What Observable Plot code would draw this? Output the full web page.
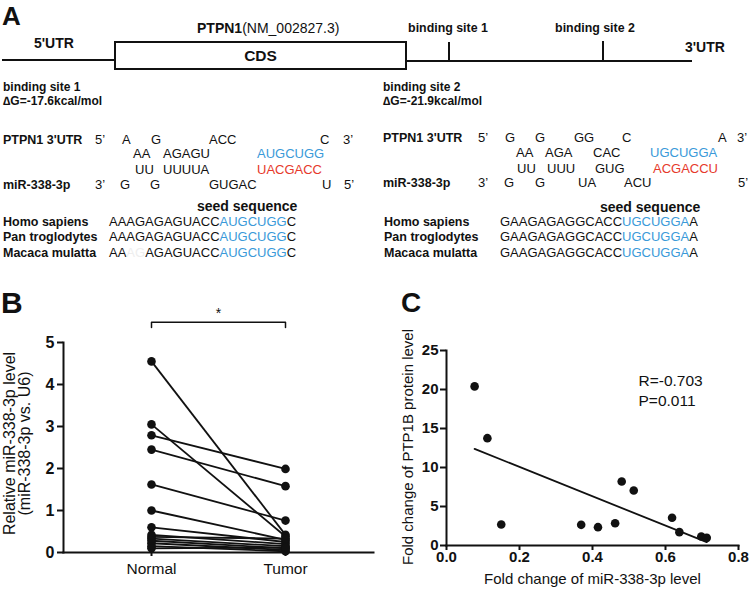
<!DOCTYPE html>
<html><head><meta charset="utf-8">
<script src="https://cdn.jsdelivr.net/npm/d3@7"></script>
<script src="https://cdn.jsdelivr.net/npm/@observablehq/plot@0.6"></script>
<style>
body{margin:0;background:#fff}
#wrap{position:relative;width:750px;height:594px;background:#fff;font-family:"Liberation Sans",Arial,Helvetica,sans-serif}
#wrap > svg{position:absolute}
</style>
</head><body><div id="wrap"></div>
<script>
// ---------- Panel B data ----------
const groups = ["Normal", "Tumor"];
const normalLevel = [4.55, 3.05, 2.79, 2.45, 1.62, 1.0, 0.6, 0.42, 0.37, 0.33, 0.28, 0.22, 0.15, 0.1];
const tumorLevel  = [0.42, 0.38, 1.99, 1.58, 0.76, 0.3, 0.25, 0.2, 0.33, 0.15, 0.1, 0.06, 0.03, 0.12];
const yTicksB = [0, 1, 2, 3, 4, 5];
const yLabelB = ["Relative miR-338-3p level", "(miR-338-3p vs. U6)"];
const sigMark = "*";

// ---------- Panel C data ----------
const mirFold = [0.077, 0.112, 0.150, 0.369, 0.415, 0.462, 0.480, 0.513, 0.618, 0.638, 0.698, 0.713];
const ptpFold = [20.4, 13.76, 2.69, 2.65, 2.35, 2.86, 8.2, 7.05, 3.55, 1.71, 1.15, 0.98];
const xTicksC = [0, 0.2, 0.4, 0.6, 0.8];
const yTicksC = [0, 5, 10, 15, 20, 25];
const stats = ["R=-0.703", "P=0.011"];
const xLabelC = "Fold change of miR-338-3p level";
const yLabelC = "Fold change of PTP1B protein level";

// ---------- Panel A text ----------
const panelLetters = ["A", "B", "C"];
const geneName = ["PTPN1", "(NM_002827.3)"];
const siteNames = ["binding site 1", "binding site 2"];
const deltaG = ["\u2206G=-17.6kcal/mol", "\u2206G=-21.9kcal/mol"];
const rowNames = ["PTPN1 3'UTR", "miR-338-3p"];
const species = ["Homo sapiens", "Pan troglodytes", "Macaca mulatta"];
const seedLabel = "seed sequence";
// segments: [text, colourKey]  k=black b=blue r=red g=faint
const site1Seqs = [
  [["AAAGAGAGUACC","k"],["AUGCUGG","b"],["C","k"]],
  [["AAAGAGAGUACC","k"],["AUGCUGG","b"],["C","k"]],
  [["AA","k"],["AG","g"],["AGAGUACC","k"],["AUGCUGG","b"],["C","k"]]
];
const site2Seqs = [
  [["GAAGAGAGGCACC","k"],["UGCUGGA","b"],["A","k"]],
  [["GAAGAGAGGCACC","k"],["UGCUGGA","b"],["A","k"]],
  [["GAAGAGAGGCACC","k"],["UGCUGGA","b"],["A","k"]]
];
const site1Duplex = [
  [["5\u2019","k"],["A","k"],["G","k"],["ACC","k"],["C","k"],["3\u2019","k"]],
  [["AA","k"],["AGAGU","k"],["AUGCUGG","b"]],
  [["UU","k"],["UUUUA","k"],["UACGACC","r"]],
  [["3\u2019","k"],["G","k"],["G","k"],["GUGAC","k"],["U","k"],["5\u2019","k"]]
];
const site2Duplex = [
  [["5\u2019","k"],["G","k"],["G","k"],["GG","k"],["C","k"],["A","k"],["3\u2019","k"]],
  [["AA","k"],["AGA","k"],["CAC","k"],["UGCUGGA","b"]],
  [["UU","k"],["UUU","k"],["GUG","k"],["ACGACCU","r"]],
  [["3\u2019","k"],["G","k"],["G","k"],["UA","k"],["ACU","k"],["5\u2019","k"]]
];

// ---------- layout (not data) ----------
const FONT = '"Liberation Sans", Arial, Helvetica, sans-serif';
const COL = {k:"#111", b:"#3a9ad9", r:"#e6392b", g:"#eeeeee"};
const dup1X = [[95,122,151,209,320,343],[133,163,257],[135,163,257],[95,120,150,209,322,344]];
const dup1Y = [144,158,174,189];
const dup2X = [[478,505,535,574,622,718,737],[516,545,593,650],[517,547,595,653],[478,504,535,578,624,738]];
const dup2Y = [142,157,173,187];
const specY1 = [226,241,256.5];
const specY2 = [226,241,257];

const wrap = d3.select("#wrap");
const bg = wrap.append("svg").attr("width",750).attr("height",594)
  .style("left","0px").style("top","0px").attr("font-family",FONT);

function txt(x, y, segs, o = {}) {
  const t = bg.append("text").attr("x",x).attr("y",y)
    .attr("font-size",o.size||13).attr("font-weight",o.weight||"normal")
    .attr("text-anchor",o.anchor||"start").attr("fill","#111");
  if (typeof segs === "string") segs = [[segs,"k"]];
  segs.forEach(([s,c]) => t.append("tspan").attr("fill",COL[c]||c).text(s));
  return t;
}
function ln(x1,y1,x2,y2,w=2){bg.append("line").attr("x1",x1).attr("y1",y1).attr("x2",x2).attr("y2",y2).attr("stroke","#111").attr("stroke-width",w);}

// panel letters
txt(2, 25, panelLetters[0], {size:26, weight:"bold"});
txt(1, 313, panelLetters[1], {size:30, weight:"bold"});
txt(401, 312, panelLetters[2], {size:28, weight:"bold"});

// gene schematic
const g1 = bg.append("text").attr("x",197).attr("y",33).attr("font-size",14).attr("fill","#111");
g1.append("tspan").attr("font-weight","bold").text(geneName[0]);
g1.append("tspan").text(geneName[1]);
txt(34, 48, "5'UTR", {size:14, weight:"bold"});
txt(685, 52, "3'UTR", {size:14, weight:"bold"});
ln(2,60,115,60);
bg.append("rect").attr("x",115).attr("y",42).attr("width",291).attr("height",27).attr("fill","none").attr("stroke","#111").attr("stroke-width",2);
txt(260.5, 61, "CDS", {size:15.5, weight:"bold", anchor:"middle"});
ln(406,61,692,61);
ln(449,42,449,61); ln(603,41,603,61);
txt(448, 32, siteNames[0], {size:12.4, weight:"bold", anchor:"middle"});
txt(595, 32, siteNames[1], {size:12.4, weight:"bold", anchor:"middle"});

// binding site headers
txt(3, 91, siteNames[0], {size:12, weight:"bold"});
txt(3, 104.5, deltaG[0], {size:12, weight:"bold"});
txt(383, 91, siteNames[1], {size:12, weight:"bold"});
txt(383, 104.5, deltaG[1], {size:12, weight:"bold"});

// duplexes
txt(3, dup1Y[0], rowNames[0], {size:12.5, weight:"bold"});
txt(3, dup1Y[3], rowNames[1], {size:12.5, weight:"bold"});
txt(383, dup2Y[0], rowNames[0], {size:12.5, weight:"bold"});
txt(383, dup2Y[3], rowNames[1], {size:12.5, weight:"bold"});
site1Duplex.forEach((row,r) => row.forEach((seg,i) => txt(dup1X[r][i], dup1Y[r], [seg], {size:13})));
site2Duplex.forEach((row,r) => row.forEach((seg,i) => txt(dup2X[r][i], dup2Y[r], [seg], {size:13})));

// conservation
txt(197, 211, seedLabel, {size:14, weight:"bold"});
txt(600, 212, seedLabel, {size:14, weight:"bold"});
species.forEach((s,i) => {
  txt(3, specY1[i], s, {size:12.5, weight:"bold"});
  txt(109, specY1[i], site1Seqs[i], {size:13});
  txt(384, specY2[i], s, {size:12.5, weight:"bold"});
  txt(500, specY2[i], site2Seqs[i], {size:13});
});

function styleAxis(chart, label, size, weight) {
  d3.select(chart).selectAll(`g[aria-label="${label}"]`)
    .style("font-size", size + "px").style("font-weight", weight).style("font-family", FONT);
}

// ---------- Panel B ----------
const rowsB = normalLevel.map((n,i) => ({normal:n, tumor:tumorLevel[i]}));
const ptsB = groups.flatMap((g,j) => (j ? tumorLevel : normalLevel).map(v => ({g, v})));
const sigLevel = 5.48, sigTick = 0.12;
const bracket = [
  {g:groups[0], v:sigLevel - sigTick}, {g:groups[0], v:sigLevel},
  {g:groups[1], v:sigLevel}, {g:groups[1], v:sigLevel - sigTick}
];
const chartB = Plot.plot({
  width:375, height:300, marginLeft:63, marginRight:2, marginTop:62, marginBottom:28,
  style:{fontFamily:FONT, background:"transparent", color:"#111", overflow:"visible"},
  x:{type:"point", domain:groups, padding:0.65},
  y:{domain:[0,5]},
  marks:[
    Plot.axisY(yTicksB, {tickSize:6, tickPadding:3, strokeWidth:2, label:null}),
    Plot.axisX({tickSize:4, tickPadding:6, strokeWidth:2, label:null}),
    Plot.frame({anchor:"left", strokeWidth:2}),
    Plot.frame({anchor:"bottom", strokeWidth:2}),
    Plot.link(rowsB, {x1:() => groups[0], x2:() => groups[1], y1:"normal", y2:"tumor", strokeWidth:1.8}),
    Plot.dot(ptsB, {x:"g", y:"v", r:4.3, fill:"#111"}),
    Plot.line(bracket, {x:"g", y:"v", strokeWidth:1.5}),
    Plot.text([sigMark], {frameAnchor:"top", dy:-34, fontSize:14}),
    Plot.text([yLabelB[0]], {frameAnchor:"left", textAnchor:"middle", rotate:-90, dx:-54, dy:-4, fontSize:16}),
    Plot.text([yLabelB[1]], {frameAnchor:"left", textAnchor:"middle", rotate:-90, dx:-39, dy:-4, fontSize:16})
  ]
});
styleAxis(chartB, "y-axis tick label", 16, "bold");
styleAxis(chartB, "x-axis tick label", 15.5, "normal");
d3.select(chartB).style("left","0px").style("top","280px");
document.getElementById("wrap").appendChild(chartB);

// ---------- Panel C ----------
const ptsC = mirFold.map((x,i) => ({x, y:ptpFold[i]}));
const chartC = Plot.plot({
  width:375, height:314, marginLeft:71, marginRight:12, marginTop:70, marginBottom:49,
  style:{fontFamily:FONT, background:"transparent", color:"#111", overflow:"visible"},
  x:{domain:[0,0.8]},
  y:{domain:[0,25]},
  marks:[
    Plot.axisX(xTicksC, {tickFormat:d3.format(".1f"), tickSize:5, tickPadding:1, strokeWidth:2, label:null}),
    Plot.axisY(yTicksC, {tickSize:6, tickPadding:2, strokeWidth:2, label:null}),
    Plot.frame({anchor:"left", strokeWidth:2}),
    Plot.frame({anchor:"bottom", strokeWidth:2}),
    Plot.linearRegressionY(ptsC, {x:"x", y:"y", ci:0, stroke:"#111", strokeWidth:1.8}),
    Plot.dot(ptsC, {x:"x", y:"y", r:4.3, fill:"#111"}),
    Plot.text([stats.join("\n")], {frameAnchor:"top-left", dx:192, dy:22, textAnchor:"start", lineAnchor:"top", lineHeight:1.27, fontSize:15.5}),
    Plot.text([xLabelC], {frameAnchor:"bottom", dy:38, fontSize:15}),
    Plot.text([yLabelC], {frameAnchor:"left", textAnchor:"middle", rotate:-90, dx:-38, dy:-1, fontSize:15})
  ]
});
styleAxis(chartC, "y-axis tick label", 15, "bold");
styleAxis(chartC, "x-axis tick label", 15, "bold");
d3.select(chartC).style("left","375px").style("top","280px");
document.getElementById("wrap").appendChild(chartC);
</script>
</body></html>
